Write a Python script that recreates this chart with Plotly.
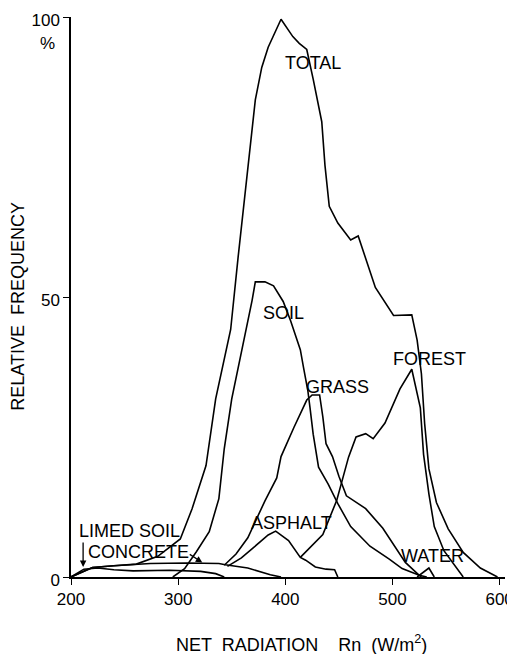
import plotly.graph_objects as go

# ---- data (Rn in W/m2, relative frequency in %) ----
total_x = [200, 220, 240, 261, 281, 302, 313, 326, 335, 349, 356, 365, 372, 378, 384, 396, 407, 413, 420,
           426, 434, 437, 441, 449, 461, 468, 475, 484, 501, 518, 523, 527, 530, 534, 541, 552, 566, 582, 598]
total_y = [0, 1.7, 2.0, 2.3, 3.7, 6.8, 12.2, 19.9, 31.8, 44.2, 57.2, 73.2, 85.2, 91.0, 94.6, 99.6, 96.5, 95.3, 94.2,
           88.9, 81.3, 73.5, 66.2, 63.2, 60.2, 60.9, 57.0, 51.7, 46.7, 46.8, 42.3, 36.3, 27.4, 19.3, 13.3, 8.6, 4.4, 1.6, 0]

soil_x = [295, 306, 317, 329, 338, 343, 350, 358, 365, 369, 372, 381, 389, 398, 405, 414, 417, 421, 423,
          426, 431, 440, 449, 461, 479, 497, 509, 525, 532]
soil_y = [0, 1.5, 4.5, 8.1, 14.0, 22.9, 31.8, 39.0, 45.6, 49.4, 52.7, 52.7, 52.0, 49.2, 45.7, 40.6, 37.4, 33.3, 30.3,
          25.5, 19.6, 16.6, 13.1, 9.0, 5.5, 3.2, 1.5, 0.3, 0]

grass_x = [343, 354, 365, 381, 392, 396, 408, 420, 425, 432, 435, 438, 444, 450, 457, 475, 491, 512, 525, 527]
grass_y = [2.1, 4.1, 7.0, 13.6, 17.7, 21.5, 26.7, 31.6, 32.5, 32.5, 28.6, 23.8, 21.5, 18.0, 14.5, 12.2, 8.7, 2.6, 0.3, 0]

forest_x = [414, 435, 448, 453, 459, 466, 475, 482, 493, 507, 518, 526, 529, 534, 539, 548, 566]
forest_y = [3.5, 7.6, 13.7, 17.3, 21.4, 25.0, 25.6, 24.7, 27.5, 33.6, 37.1, 30.2, 21.9, 14.8, 9.0, 4.7, 0]

asphalt_x = [346, 359, 370, 377, 384, 391, 403, 414, 419, 428, 438, 446, 449]
asphalt_y = [1.9, 3.4, 5.2, 6.4, 7.5, 8.2, 6.5, 3.5, 3.0, 1.8, 1.4, 1.3, 0]

water_x = [523, 534, 539]
water_y = [0, 1.6, 0]

concrete_x = [200, 220, 240, 274, 308, 338, 344, 365, 386, 396]
concrete_y = [0, 1.7, 2.0, 2.4, 2.5, 2.4, 2.2, 1.6, 0.4, 0]

limed_x = [200, 212, 225, 240, 258, 292, 321, 335, 343]
limed_y = [0, 1.4, 1.6, 1.3, 1.1, 1.2, 1.0, 0.6, 0]

x_ticks = [200, 300, 400, 500, 600]
y_ticks = [0, 50, 100]

series = [
    ("TOTAL", total_x, total_y),
    ("SOIL", soil_x, soil_y),
    ("GRASS", grass_x, grass_y),
    ("FOREST", forest_x, forest_y),
    ("ASPHALT", asphalt_x, asphalt_y),
    ("WATER", water_x, water_y),
    ("CONCRETE", concrete_x, concrete_y),
    ("LIMED SOIL", limed_x, limed_y),
]

FONT = "Liberation Sans"
fig = go.Figure()
for name, xs, ys in series:
    fig.add_trace(go.Scatter(x=xs, y=ys, mode="lines", name=name,
                             line=dict(color="black", width=1.6), showlegend=False,
                             cliponaxis=False))

labels = [
    ("TOTAL", 426, 91.7, "center"),
    ("SOIL", 398, 47.2, "center"),
    ("GRASS", 448.6, 34.0, "center"),
    ("FOREST", 534.5, 38.9, "center"),
    ("ASPHALT", 406, 9.6, "center"),
    ("WATER", 537.6, 3.7, "center"),
    ("LIMED SOIL", 206, 8.3, "left"),
    ("CONCRETE", 214, 4.4, "left"),
]
for text, x, y, anc in labels:
    fig.add_annotation(x=x, y=y, text=text, showarrow=False, xanchor=anc, yanchor="middle",
                       font=dict(family=FONT, size=18, color="black"))

# arrows
fig.add_annotation(x=211.3, y=1.8, ax=0, ay=-26, text="", showarrow=True,
                   arrowhead=2, arrowsize=1, arrowwidth=1.3, arrowcolor="black")
fig.add_annotation(x=322.5, y=2.6, ax=-14, ay=-9, text="", showarrow=True,
                   arrowhead=2, arrowsize=1, arrowwidth=1.3, arrowcolor="black")

# percent sign under 100
fig.add_annotation(x=-0.055, y=0.952, xref="paper", yref="paper", text="%", showarrow=False,
                   xanchor="center", yanchor="middle",
                   font=dict(family=FONT, size=17, color="black"))

# axis titles
fig.add_annotation(x=0.532, y=-0.118, xref="paper", yref="paper",
                   text="NET  RADIATION    Rn  (W/m<sup>2</sup>)", showarrow=False,
                   xanchor="center", yanchor="middle",
                   font=dict(family=FONT, size=18, color="black"))
fig.add_annotation(x=-0.124, y=0.483, xref="paper", yref="paper",
                   text="RELATIVE  FREQUENCY", showarrow=False, textangle=-90,
                   xanchor="center", yanchor="middle",
                   font=dict(family=FONT, size=18, color="black"))

fig.update_xaxes(range=[200, 605], tickvals=x_ticks, ticktext=[str(v) for v in x_ticks],
                 showline=True, linecolor="black", linewidth=1.5, ticks="outside",
                 ticklen=6, tickwidth=1.3, tickcolor="black", showgrid=False, zeroline=False,
                 automargin=False, ticklabeloverflow="allow",
                 tickfont=dict(family=FONT, size=17, color="black"))
fig.update_yaxes(range=[0, 100], tickvals=y_ticks, ticktext=[str(v) for v in y_ticks],
                 showline=True, linecolor="black", linewidth=1.5, ticks="outside",
                 ticklen=6, tickwidth=1.3, tickcolor="black", showgrid=False, zeroline=False,
                 automargin=False, ticklabeloverflow="allow", ticklabelshift=3,
                 tickfont=dict(family=FONT, size=17, color="black"))

# the page body adds an 8 px offset, so the figure is sized to sit inside the window
fig.update_layout(width=507, height=646, margin=dict(l=63, r=10, t=9, b=77, autoexpand=False),
                  paper_bgcolor="white", plot_bgcolor="white")

fig.write_html("out.html")
